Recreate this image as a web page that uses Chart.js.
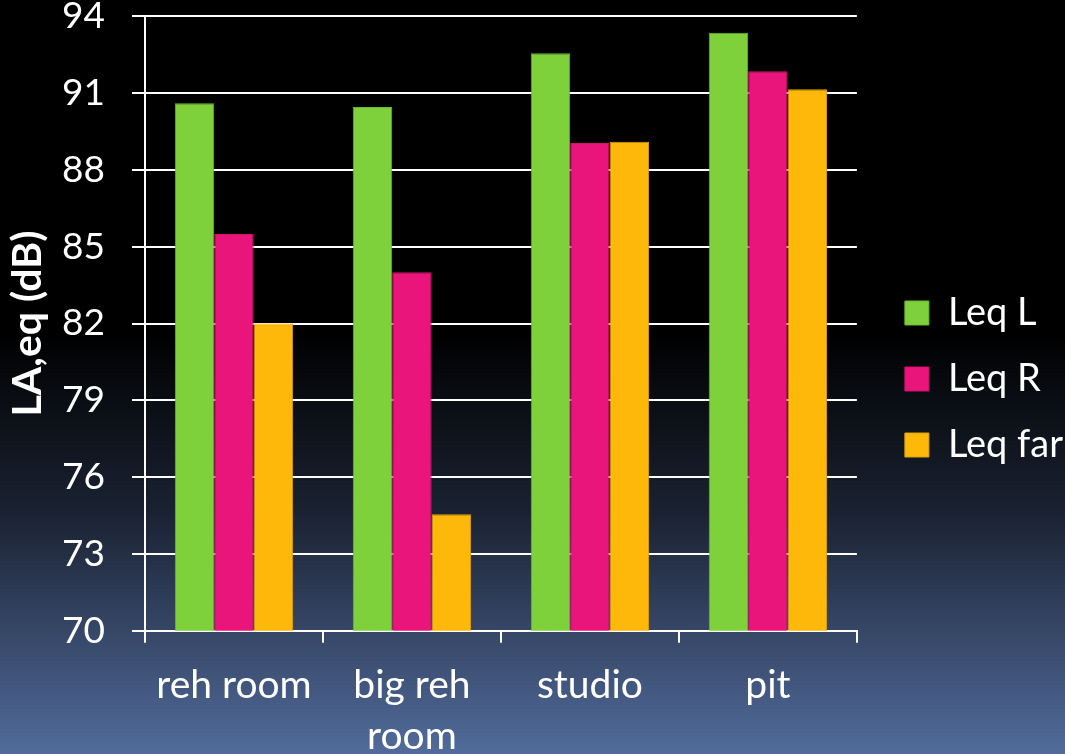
<!DOCTYPE html>
<html>
<head>
<meta charset="utf-8">
<script src="https://cdn.jsdelivr.net/npm/chart.js@4"></script>
<style>
  html, body { margin: 0; padding: 0; }
  body {
    width: 1065px; height: 754px; overflow: hidden; position: relative;
    background: linear-gradient(to bottom, #000000 0%, #000000 44%, #1a2232 68%, #3a4c6e 86%, #516b9b 100%);
  }
  #wrap { position: absolute; left: 0; top: -33px; width: 1073px; height: 812px; }
</style>
</head>
<body>
<div id="wrap"><canvas id="chart"></canvas></div>
<script>
const rooms = ["reh room", ["big reh", "room"], "studio", "pit"];
const leqL = [90.6, 90.45, 92.55, 93.35];
const leqR = [85.5, 84.0, 89.05, 91.85];
const leqFar = [82.0, 74.55, 89.1, 91.15];

const yTicks = [70, 73, 76, 79, 82, 85, 88, 91, 94];

const font = "Lato, 'Open Sans', sans-serif";

Chart.defaults.font.family = font;
Chart.defaults.color = "#ffffff";

new Chart(document.getElementById("chart"), {
  type: "bar",
  data: {
    labels: rooms,
    datasets: [
      { label: "Leq L", data: leqL, backgroundColor: "#7fd13b", borderColor: "#6cb832", borderWidth: 1 },
      { label: "Leq R", data: leqR, backgroundColor: "#ea157a", borderColor: "#d0126c", borderWidth: 1 },
      { label: "Leq far", data: leqFar, backgroundColor: "#feb80a", borderColor: "#e0a208", borderWidth: 1 }
    ]
  },
  options: {
    responsive: true,
    maintainAspectRatio: false,
    animation: false,
    layout: { padding: { top: 12, right: 0, left: 3, bottom: 0 } },
    datasets: { bar: { categoryPercentage: 0.665, barPercentage: 1.0 } },
    plugins: {
      tooltip: { enabled: false },
      legend: {
        position: "right",
        maxWidth: 400,
        labels: {
          color: "#ffffff",
          boxWidth: 24,
          boxHeight: 24,
          padding: 28,
          font: { size: 38, family: font }
        }
      }
    },
    scales: {
      x: {
        grid: {
          offset: true,
          drawOnChartArea: false,
          color: "#ffffff",
          lineWidth: 2,
          tickLength: 12
        },
        border: { color: "#ffffff", width: 2 },
        ticks: {
          color: "#ffffff",
          maxRotation: 0,
          padding: 17,
          font: { size: 39, family: font, lineHeight: 1.31 }
        }
      },
      y: {
        min: 70,
        max: 94,
        afterBuildTicks: (axis) => { axis.ticks = yTicks.map(v => ({ value: v })); },
        afterFit: (axis) => { axis.width = 142; },
        grid: { color: "#ffffff", lineWidth: 2, tickLength: 13 },
        border: { color: "#ffffff", width: 2 },
        ticks: {
          color: "#ffffff",
          padding: 27,
          font: { size: 37, family: font }
        },
        title: {
          display: true,
          text: "LA,eq (dB)",
          color: "#ffffff",
          padding: { top: 0, bottom: 14 },
          font: { size: 41, weight: "bold", family: font }
        }
      },
      // empty spacer between the plot and the legend
      gap: {
        position: "right",
        display: true,
        ticks: { display: false },
        grid: { display: false, drawTicks: false },
        border: { display: false },
        afterFit: (axis) => { axis.width = 20; }
      }
    }
  }
});
</script>
</body>
</html>
